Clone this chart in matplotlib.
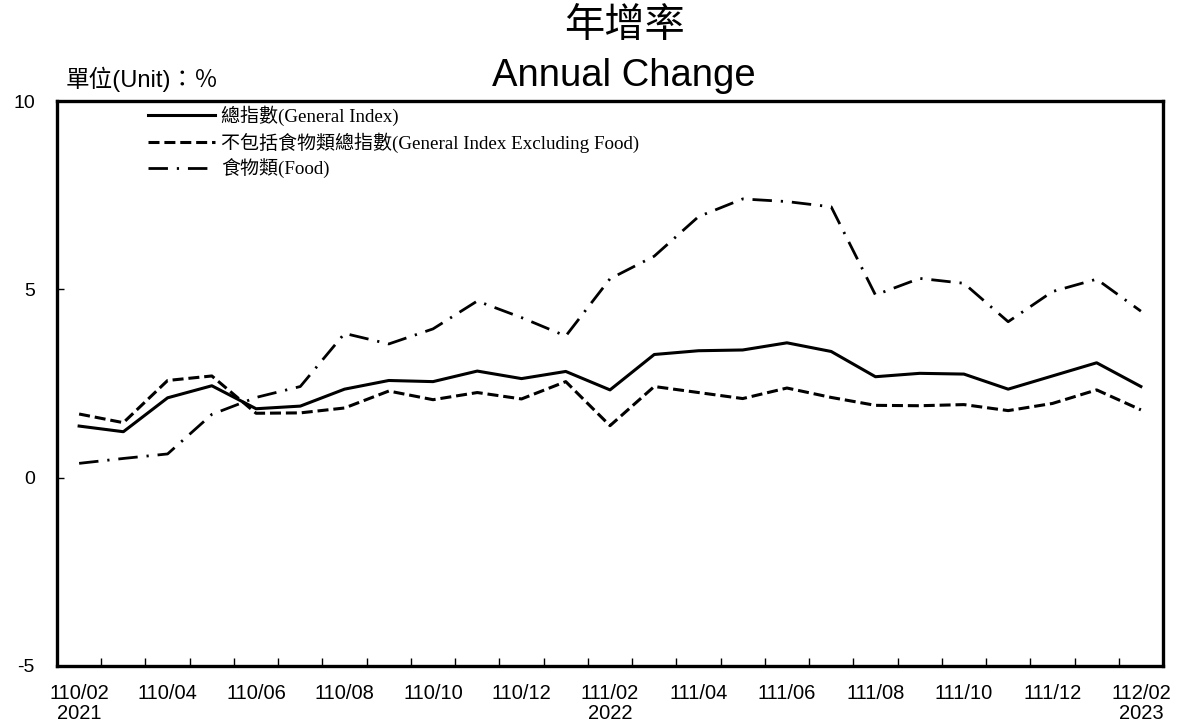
import matplotlib
matplotlib.use("Agg")
import matplotlib.pyplot as plt
import numpy as np

# 月份(民國年/月)
months = ["110/02", "110/03", "110/04", "110/05", "110/06", "110/07", "110/08",
          "110/09", "110/10", "110/11", "110/12", "111/01", "111/02", "111/03",
          "111/04", "111/05", "111/06", "111/07", "111/08", "111/09", "111/10",
          "111/11", "111/12", "112/01", "112/02"]
years = {"110/02": "2021", "111/02": "2022", "112/02": "2023"}

general = [1.37, 1.22, 2.12, 2.44, 1.83, 1.90, 2.35, 2.58, 2.55, 2.83, 2.63, 2.82,
           2.33, 3.27, 3.37, 3.39, 3.58, 3.35, 2.68, 2.77, 2.75, 2.35, 2.70, 3.05, 2.42]
excl_food = [1.69, 1.46, 2.58, 2.70, 1.71, 1.72, 1.85, 2.30, 2.07, 2.26, 2.09, 2.55,
             1.38, 2.42, 2.26, 2.10, 2.38, 2.13, 1.92, 1.91, 1.94, 1.78, 1.97, 2.33, 1.80]
food = [0.38, 0.51, 0.63, 1.68, 2.13, 2.42, 3.83, 3.55, 3.95, 4.69, 4.25, 3.76,
        5.28, 5.88, 6.93, 7.40, 7.33, 7.19, 4.85, 5.29, 5.16, 4.14, 4.94, 5.27, 4.42]

labels = ["總指數(General Index)",
          "不包括食物類總指數(General Index Excluding Food)",
          "食物類(Food)"]

serif_cjk = ["Liberation Serif", "Noto Sans CJK TC"]
sans_cjk = ["Liberation Sans", "Noto Sans CJK TC"]

fig = plt.figure(figsize=(11.82, 7.27), dpi=100)
ax = fig.add_axes([57/1182, 61/727, 1106/1182, 565/727])

x = np.arange(len(months))
ax.plot(x, general, color="black", lw=2.2, ls="-", label=labels[0])
ax.plot(x, excl_food, color="black", lw=2.2, ls=(0, (3.6, 1.6)), label=labels[1])
ax.plot(x, food, color="black", lw=2.0, ls=(0, (7, 3.2, 0.8, 3.2)), label=labels[2])

ax.set_xlim(-0.5, len(months) - 0.5)
ax.set_ylim(-5, 10)

# 類別軸: 刻度在格線之間
tick_pos = x[::2]
tick_lab = [m + ("\n" + years[m] if m in years else "") for m in months[::2]]
ax.set_xticks(tick_pos)
ax.set_xticklabels(tick_lab, family=sans_cjk, fontsize=14.5, linespacing=1.05)
ax.set_xticks(np.arange(0.5, len(months) - 0.5, 1), minor=True)
ax.tick_params(axis="x", which="major", length=0, pad=13)
ax.tick_params(axis="x", which="minor", direction="in", length=6, width=1)

ax.set_yticks([-5, 0, 5, 10])
ax.set_yticklabels(["-5", "0", "5", "10"], family=sans_cjk, fontsize=14)
ax.tick_params(axis="y", direction="in", length=5, width=1, pad=16)

for s in ax.spines.values():
    s.set_linewidth(2.4)

leg = ax.legend(loc="upper left", bbox_to_anchor=(0.072, 1.012), frameon=False,
                prop={"family": serif_cjk, "size": 13.7}, handlelength=3.5,
                handletextpad=0.35, labelspacing=0.33, borderaxespad=0.2)

fig.text(624/1182, 1 - 26/727, "年增率", ha="center", va="center",
         family=sans_cjk, fontsize=29, fontweight="light")
fig.text(624/1182, 1 - 76/727, "Annual Change", ha="center", va="center",
         family=sans_cjk, fontsize=27.5)
fig.text(66/1182, 1 - 79/727, "單位(Unit)：％", ha="left", va="center",
         family=sans_cjk, fontsize=17)

fig.savefig("out.png", dpi=100)
